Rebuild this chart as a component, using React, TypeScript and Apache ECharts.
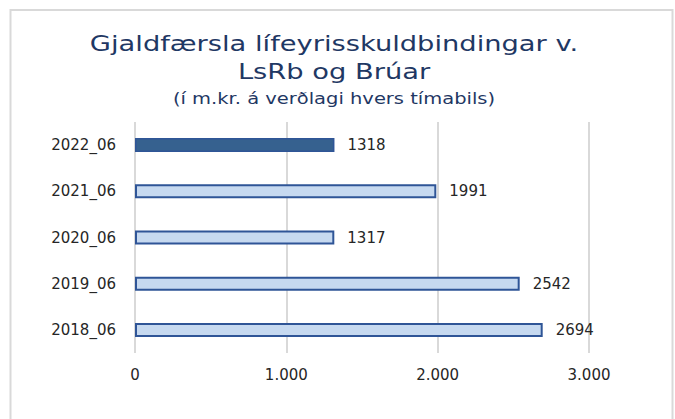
import React, { useEffect, useRef } from "react";
import * as echarts from "echarts";

const categories = ["2018_06", "2019_06", "2020_06", "2021_06", "2022_06"];
const values = [2694, 2542, 1317, 1991, 1318];
const highlighted = ["2022_06"];
const xTicks = { min: 0, max: 3000, interval: 1000 };
const titleLines = ["Gjaldfærsla lífeyrisskuldbindingar v.", "LsRb og Brúar"];
const subtitle = "(í m.kr. á verðlagi hvers tímabils)";

const FONT = "DejaVu Sans";
const NAVY = "#1F3864";
const TEXT = "#262626";

export default function App() {
  const ref = useRef<HTMLDivElement>(null);
  useEffect(() => {
    if (!ref.current) return;
    const chart = echarts.init(ref.current, undefined, { renderer: "svg" });
    const fmt = (v: number) => String(v).replace(/\B(?=(\d{3})+(?!\d))/g, ".");
    chart.setOption({
      animation: false,
      backgroundColor: "#ffffff",
      textStyle: { fontFamily: FONT },
      graphic: [
        {
          type: "rect",
          shape: { x: 10.5, y: 10, width: 662, height: 430 },
          style: { fill: "none", stroke: "#D9D9D9", lineWidth: 2 },
          z: 0,
        },
        {
          type: "text",
          x: 334,
          y: 44,
          scaleX: 1.3,
          style: { text: titleLines[0], fill: NAVY, font: `21px '${FONT}'`, textAlign: "center", textVerticalAlign: "middle" },
        },
        {
          type: "text",
          x: 334,
          y: 72,
          scaleX: 1.3,
          style: { text: titleLines[1], fill: NAVY, font: `21px '${FONT}'`, textAlign: "center", textVerticalAlign: "middle" },
        },
        {
          type: "text",
          x: 334,
          y: 99,
          scaleX: 1.3,
          style: { text: subtitle, fill: NAVY, font: `15px '${FONT}'`, textAlign: "center", textVerticalAlign: "middle" },
        },
      ],
      grid: { left: 135, right: 86, top: 122, bottom: 66, containLabel: false },
      xAxis: {
        type: "value",
        min: xTicks.min,
        max: xTicks.max,
        interval: xTicks.interval,
        axisLine: { show: false },
        axisTick: { show: false },
        splitLine: { show: true, lineStyle: { color: "#D9D9D9", width: 2 } },
        axisLabel: { formatter: fmt, fontSize: 15, color: TEXT, fontFamily: FONT, margin: 14 },
      },
      yAxis: {
        type: "category",
        data: categories,
        axisLine: { show: false },
        axisTick: { show: false },
        axisLabel: { fontSize: 15, color: TEXT, fontFamily: FONT, margin: 19 },
      },
      series: [
        {
          type: "bar",
          barWidth: 14,
          data: categories.map((c, i) => ({
            value: values[i],
            itemStyle: highlighted.includes(c)
              ? { color: "#36618F", borderColor: "#2F5597", borderWidth: 1.5 }
              : { color: "#C6D9F0", borderColor: "#2F5597", borderWidth: 2 },
          })),
          label: { show: true, position: "right", distance: 13, fontSize: 15, color: TEXT, fontFamily: FONT },
        },
      ],
    });
    return () => chart.dispose();
  }, []);
  return (
    <div
      ref={ref}
      style={{ position: "fixed", left: 0, top: 0, width: 675, height: 419 }}
    />
  );
}
